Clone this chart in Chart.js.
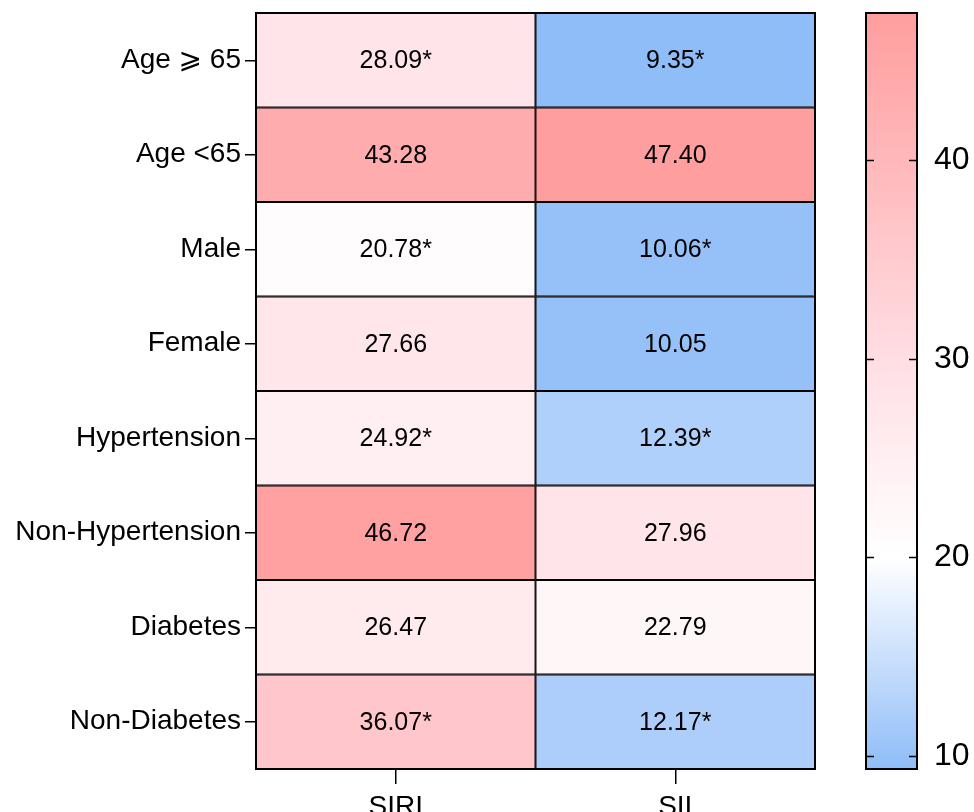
<!DOCTYPE html>
<html>
<head>
<meta charset="utf-8">
<script src="https://cdn.jsdelivr.net/npm/chart.js@4.4.1/dist/chart.umd.min.js"></script>
<style>
html, body { margin: 0; padding: 0; background: #fff; }
#wrap { width: 974px; height: 812px; }
</style>
</head>
<body>
<div id="wrap"><canvas id="heat" width="974" height="812"></canvas></div>
<script>
// rows top to bottom, columns left to right
const rowLabels = ['Age \u2A7E 65', 'Age <65', 'Male', 'Female', 'Hypertension', 'Non-Hypertension', 'Diabetes', 'Non-Diabetes'];
const colLabels = ['SIRI', 'SII'];
const siriValues = [28.09, 43.28, 20.78, 27.66, 24.92, 46.72, 26.47, 36.07];
const siiValues = [9.35, 47.40, 10.06, 10.05, 12.39, 27.96, 22.79, 12.17];
const siriMarks = ['*', '', '*', '', '*', '', '', '*'];
const siiMarks = ['*', '', '*', '', '*', '', '', '*'];
const colorbarTicks = [10, 20, 30, 40];

const vmin = Math.min(...siriValues, ...siiValues);
const vmax = Math.max(...siriValues, ...siiValues);

// colour ramp: blue -> white -> salmon
const colorStops = [
    [vmin, [143, 189, 248]],
    [20, [255, 255, 255]],
    [30, [255, 222, 228]],
    [40, [255, 184, 186]],
    [vmax, [255, 158, 158]]
];

function colorFor(v) {
    for (let i = 1; i < colorStops.length; i++) {
        const [v1, c1] = colorStops[i];
        const [v0, c0] = colorStops[i - 1];
        if (v <= v1 || i === colorStops.length - 1) {
            const t = Math.max(0, Math.min(1, (v - v0) / (v1 - v0)));
            const c = c0.map((x, k) => Math.round(x + (c1[k] - x) * t));
            return `rgb(${c[0]},${c[1]},${c[2]})`;
        }
    }
}

Chart.defaults.font.family = '"Liberation Sans", Arial, "DejaVu Sans", sans-serif';
Chart.defaults.color = '#000';

// cell text, frame and colour bar
const heatExtras = {
    id: 'heatExtras',
    afterDatasetsDraw(chart) {
        const ctx = chart.ctx;
        const area = chart.chartArea;
        ctx.save();

        // values in cells
        ctx.fillStyle = '#000';
        ctx.font = '25px "Liberation Sans", Arial, sans-serif';
        ctx.textAlign = 'center';
        ctx.textBaseline = 'middle';
        chart.data.datasets.forEach((ds, di) => {
            const meta = chart.getDatasetMeta(di);
            meta.data.forEach((bar, i) => {
                const p = bar.getCenterPoint();
                ctx.fillText(ds.values[i].toFixed(2) + ds.marks[i], p.x, p.y + 1);
            });
        });

        // outer frame
        ctx.strokeStyle = '#000';
        ctx.lineWidth = 2;
        ctx.strokeRect(area.left, area.top, area.width, area.height);

        // colour bar
        const cb = chart.scales.cb;
        const x0 = area.right + 51;
        const w = 51;
        const yTop = cb.getPixelForValue(vmax);
        const yBot = cb.getPixelForValue(vmin);
        const g = ctx.createLinearGradient(0, yBot, 0, yTop);
        colorStops.forEach(s => {
            g.addColorStop((s[0] - vmin) / (vmax - vmin), `rgb(${s[1].join(',')})`);
        });
        ctx.fillStyle = g;
        ctx.fillRect(x0, yTop, w, yBot - yTop);
        ctx.lineWidth = 2;
        ctx.strokeRect(x0, yTop, w, yBot - yTop);

        ctx.lineWidth = 1.5;
        colorbarTicks.forEach(v => {
            const y = Math.round(cb.getPixelForValue(v)) + 0.5;
            ctx.beginPath();
            ctx.moveTo(x0, y);
            ctx.lineTo(x0 + 8, y);
            ctx.moveTo(x0 + w - 8, y);
            ctx.lineTo(x0 + w, y);
            ctx.stroke();
        });
        ctx.restore();
    }
};

function makeColumn(label, values, marks) {
    return {
        label: label,
        data: values.map(() => 1),
        values: values,
        marks: marks,
        backgroundColor: c => colorFor(values[c.dataIndex]),
        borderColor: '#000',
        borderWidth: 1.3,
        borderSkipped: false,
        barPercentage: 1,
        categoryPercentage: 1
    };
}

function noPad(s) {
    s.paddingTop = 0;
    s.paddingBottom = 0;
    s.paddingLeft = 0;
    s.paddingRight = 0;
}

new Chart(document.getElementById('heat'), {
    type: 'bar',
    data: {
        labels: rowLabels,
        datasets: [
            makeColumn(colLabels[0], siriValues, siriMarks),
            makeColumn(colLabels[1], siiValues, siiMarks)
        ]
    },
    options: {
        indexAxis: 'y',
        responsive: false,
        animation: false,
        layout: { padding: { top: 13, left: 0, right: 0, bottom: 0 } },
        plugins: {
            legend: { display: false },
            tooltip: { enabled: false }
        },
        scales: {
            x: {
                type: 'linear',
                stacked: true,
                min: 0,
                max: 2,
                position: 'bottom',
                afterBuildTicks: s => { s.ticks = [{ value: 0.5 }, { value: 1.5 }]; },
                ticks: {
                    callback: v => colLabels[Math.floor(v)],
                    font: { size: 28 },
                    padding: 6,
                    maxRotation: 0,
                    autoSkip: false
                },
                grid: { drawOnChartArea: false, drawTicks: true, tickLength: 15, color: '#000', lineWidth: 1.5 },
                border: { display: false },
                afterFit: s => { s.height = 43; noPad(s); }
            },
            y: {
                stacked: true,
                ticks: { font: { size: 28 }, padding: 4, autoSkip: false },
                grid: { offset: false, drawOnChartArea: false, tickLength: 11, color: '#000', lineWidth: 1.5 },
                border: { display: false },
                afterFit: s => { s.width = 256; noPad(s); }
            },
            cb: {
                type: 'linear',
                position: 'right',
                offset: false,
                min: vmin,
                max: vmax,
                afterBuildTicks: s => { s.ticks = colorbarTicks.map(v => ({ value: v })); },
                ticks: { font: { size: 32 }, padding: 119 },
                grid: { display: false, drawTicks: false, offset: false },
                border: { display: false },
                afterFit: s => { s.width = 159; noPad(s); }
            }
        }
    },
    plugins: [heatExtras]
});
</script>
</body>
</html>
